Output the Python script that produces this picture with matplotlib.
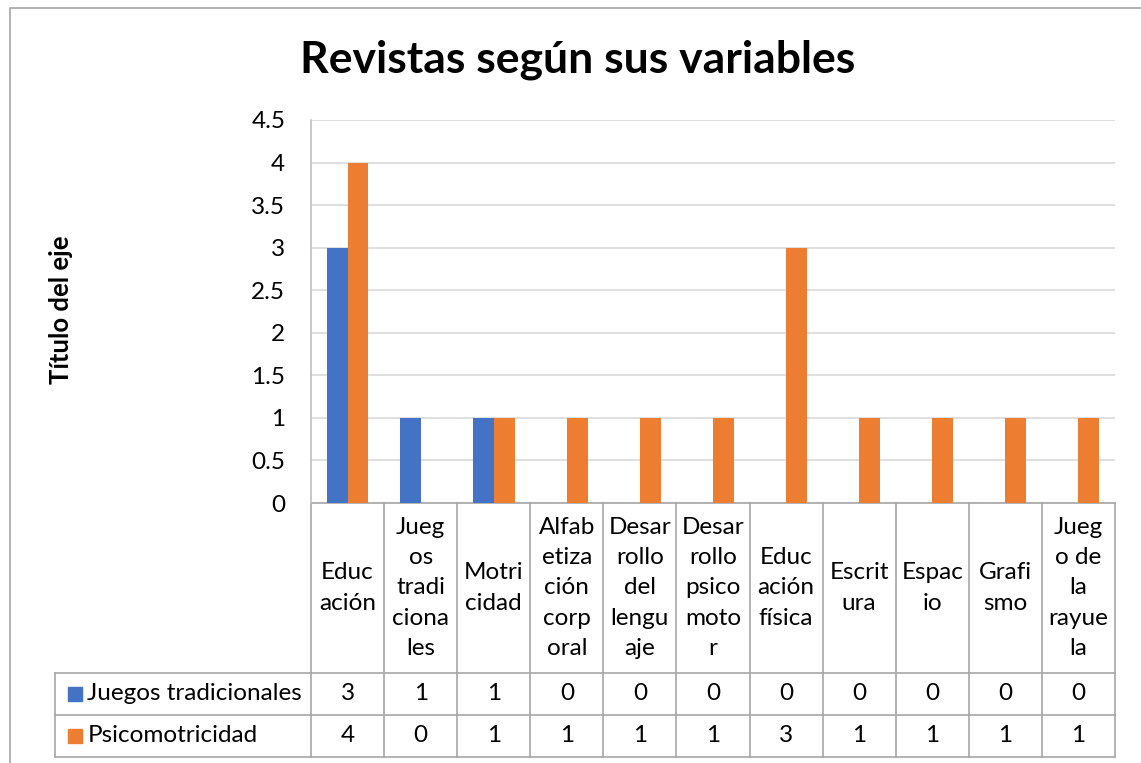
import numpy as np
import matplotlib.pyplot as plt
from matplotlib.transforms import blended_transform_factory
from matplotlib.patches import Rectangle

# data
categories = ['Educ\nación', 'Jueg\nos\ntradi\nciona\nles', 'Motri\ncidad',
              'Alfab\netiza\nción\ncorp\noral', 'Desar\nrollo\ndel\nlengu\naje',
              'Desar\nrollo\npsico\nmoto\nr', 'Educ\nación\nfísica', 'Escrit\nura',
              'Espac\nio', 'Grafi\nsmo', 'Jueg\no de\nla\nrayue\nla']
juegos = [3, 1, 1, 0, 0, 0, 0, 0, 0, 0, 0]
psico = [4, 0, 1, 1, 1, 1, 3, 1, 1, 1, 1]
series_names = ['Juegos tradicionales', 'Psicomotricidad']
colors = ['#4472C4', '#ED7D31']
yticks = np.arange(0, 4.51, 0.5)

plt.rcParams['font.family'] = ['Lato', 'DejaVu Sans']
W, H = 1141, 763
fs = 17.5
fig = plt.figure(figsize=(W / 100, H / 100), dpi=100)

# outer chart border (runs off the right/bottom edge)
fig.patches.append(Rectangle((10 / W, -0.1), 2, (763 - 8) / H + 0.1, transform=fig.transFigure,
                             fill=False, edgecolor='#a6a6a6', linewidth=1.2))

ax = fig.add_axes([311 / W, (H - 503) / H, 804 / W, 383 / H])
x = np.arange(len(categories))
bw = 0.2857
ax.bar(x - bw / 2, juegos, bw, color=colors[0], zorder=3)
ax.bar(x + bw / 2, psico, bw, color=colors[1], zorder=3)
ax.set_xlim(-0.5, len(categories) - 0.5)
ax.set_ylim(0, 4.5)
ax.set_yticks(yticks)
ax.set_yticklabels(['%g' % t for t in yticks], fontsize=fs)
ax.tick_params(axis='y', length=0, pad=18.5)
ax.set_xticks([])
ax.grid(axis='y', color='#d9d9d9', linewidth=1.2, zorder=0)
for s in ['top', 'right', 'bottom']:
    ax.spines[s].set_visible(False)
ax.spines['left'].set_color('#bfbfbf')
ax.spines['left'].set_linewidth(1.2)

# data table under the plot
tr = blended_transform_factory(ax.transData, ax.transAxes)
def fy(py):
    return (503 - py) / 383.0

line_kw = dict(color='#a6a6a6', linewidth=1.2, transform=tr, clip_on=False)
xl = -4.0
xr = len(categories) - 0.5
ax.plot([-0.5, xr], [0, 0], **line_kw)
for yy in [673, 715, 757]:
    ax.plot([xl, xr], [fy(yy), fy(yy)], **line_kw)
for i in range(len(categories) + 1):
    ax.plot([i - 0.5, i - 0.5], [0, fy(757)], **line_kw)
ax.plot([xl, xl], [fy(673), fy(757)], **line_kw)

for i, lab in enumerate(categories):
    ax.text(i, fy(588), lab, transform=tr, ha='center', va='center', fontsize=fs,
            linespacing=1.55, clip_on=False)

for r, (name, vals) in enumerate(zip(series_names, [juegos, psico])):
    yc = fy(694 + 42 * r)
    ax.plot([xl + 0.27], [yc], marker='s', markersize=9.5, color=colors[r], transform=tr,
            clip_on=False, linestyle='none')
    ax.text(xl + 0.44, yc, name, transform=tr, ha='left', va='center', fontsize=fs, clip_on=False)
    for i, v in enumerate(vals):
        ax.text(i, yc, str(v), transform=tr, ha='center', va='center', fontsize=fs, clip_on=False)

fig.text(578 / W, (H - 60) / H, 'Revistas según sus variables', ha='center', va='center',
         fontsize=32, fontweight='bold')
fig.text(61 / W, (H - 310) / H, 'Título del eje', ha='center', va='center', rotation=90,
         fontsize=18.5, fontweight='bold')

fig.savefig('out.png', dpi=100)
